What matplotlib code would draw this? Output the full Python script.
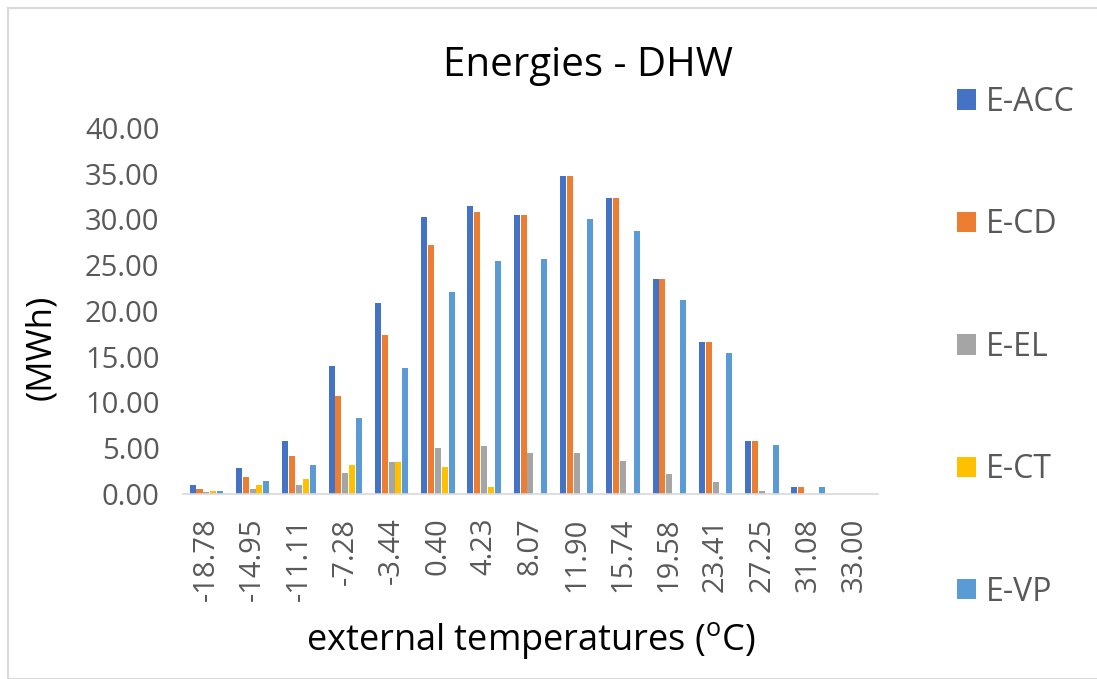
import numpy as np
import matplotlib.pyplot as plt
from matplotlib.patches import Rectangle

plt.rcParams['font.family'] = ['Open Sans', 'DejaVu Sans']
plt.rcParams['mathtext.fontset'] = 'custom'
plt.rcParams['mathtext.rm'] = 'Open Sans'
plt.rcParams['mathtext.it'] = 'Open Sans'

temps = ['-18.78', '-14.95', '-11.11', '-7.28', '-3.44', '0.40', '4.23', '8.07',
         '11.90', '15.74', '19.58', '23.41', '27.25', '31.08', '33.00']
e_acc = [1.0, 2.8, 5.8, 14.0, 20.9, 30.3, 31.5, 30.5, 34.7, 32.4, 23.5, 16.6, 5.8, 0.8, 0.0]
e_cd = [0.5, 1.9, 4.1, 10.7, 17.4, 27.2, 30.8, 30.5, 34.7, 32.4, 23.5, 16.6, 5.8, 0.8, 0.0]
e_el = [0.2, 0.5, 1.0, 2.3, 3.5, 5.0, 5.2, 4.5, 4.5, 3.6, 2.2, 1.3, 0.3, 0.0, 0.0]
e_ct = [0.35, 1.0, 1.6, 3.2, 3.5, 3.0, 0.8, 0.0, 0.0, 0.0, 0.0, 0.0, 0.0, 0.0, 0.0]
e_vp = [0.35, 1.4, 3.2, 8.3, 13.8, 22.1, 25.5, 25.7, 30.1, 28.7, 21.2, 15.4, 5.4, 0.8, 0.0]

series = [('E-ACC', e_acc, '#4472C4'), ('E-CD', e_cd, '#ED7D31'), ('E-EL', e_el, '#A5A5A5'),
          ('E-CT', e_ct, '#FFC000'), ('E-VP', e_vp, '#5B9BD5')]

fig = plt.figure(figsize=(10.97, 6.79), dpi=100)
ax = fig.add_axes([0.167, 0.2725, 0.633, 0.539])

x = np.arange(len(temps))
step = 0.148
w = 0.13
for i, (name, vals, col) in enumerate(series):
    ax.bar(x + (i - 2) * step, vals, w, color=col, label=name)

ax.set_xlim(-0.5, len(temps) - 0.5)
ax.set_ylim(0, 40)
ax.set_yticks(np.arange(0, 41, 5))
ax.set_yticklabels(['%.2f' % v for v in np.arange(0, 41, 5)])
ax.set_xticks(x)
ax.set_xticklabels(temps, rotation=90)
ax.tick_params(axis='y', length=0, pad=17, labelsize=21, labelcolor='#595959')
ax.tick_params(axis='x', length=0, pad=17, labelsize=21, labelcolor='#595959')
for s in ['top', 'right', 'left']:
    ax.spines[s].set_visible(False)
ax.spines['bottom'].set_color('#D9D9D9')
ax.spines['bottom'].set_linewidth(1.2)

ax.set_ylabel('(MWh)', fontsize=25, color='black')
ax.yaxis.set_label_coords(-0.18, 0.40)
ax.set_xlabel('external temperatures ($\\mathrm{^{o}}$C)', fontsize=26, color='black')
ax.xaxis.set_label_coords(0.5, -0.345)

fig.text(588 / 1097, 1 - 66 / 679, 'Energies - DHW', ha='center', va='center', fontsize=29)

fig.legend(loc='upper left', bbox_to_anchor=(928 / 1097, 1 - 57 / 679), frameon=False,
           fontsize=23, labelspacing=2.8, handlelength=0.6, handleheight=0.6,
           handletextpad=0.3, labelcolor='#595959')

fig.patches.append(Rectangle((8 / 1097, 0), 1.0, 1 - 8 / 679, transform=fig.transFigure,
                             fill=False, edgecolor='#D9D9D9', linewidth=1.5))

fig.savefig('out.png', dpi=100)
